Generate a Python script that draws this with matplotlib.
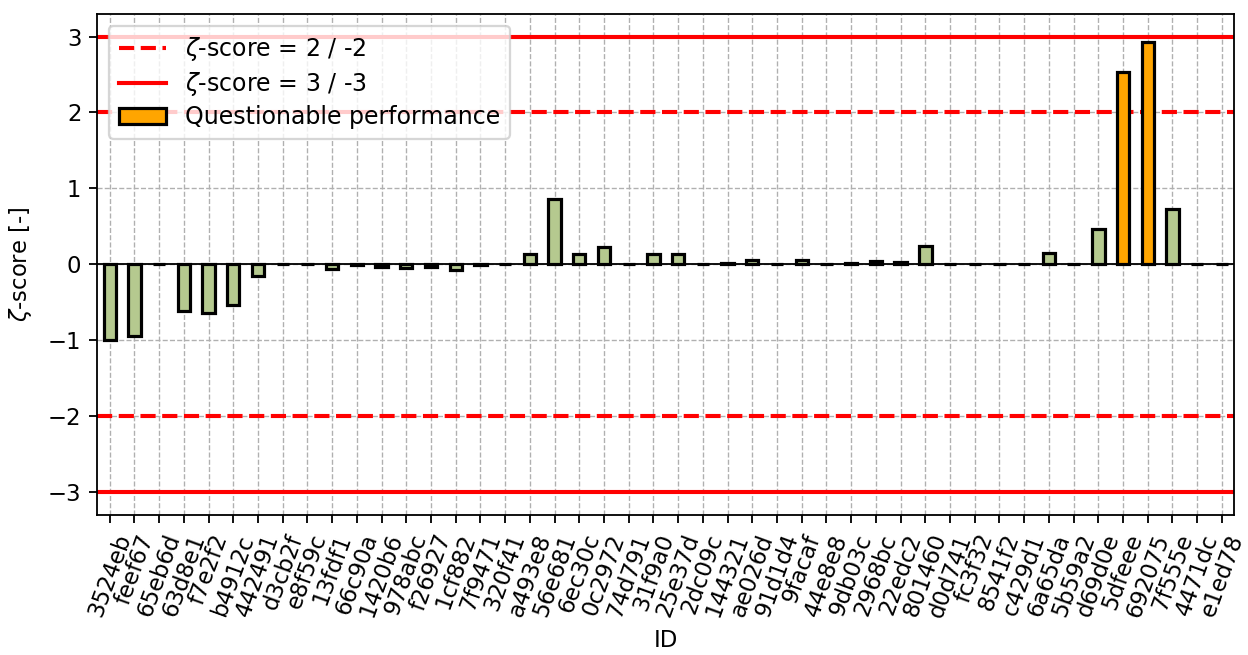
import matplotlib
matplotlib.use("Agg")
import matplotlib.pyplot as plt
from matplotlib.lines import Line2D
from matplotlib.patches import Patch

ids = ["3524eb", "feef67", "65eb6d", "63d8e1", "f7e2f2", "b4912c", "442491",
       "d3cb2f", "e8f59c", "13fdf1", "66c90a", "1420b6", "978abc", "f26927",
       "1cf882", "7f9471", "320f41", "a493e8", "56e681", "6ec30c", "0c2972",
       "74d791", "31f9a0", "25e37d", "2dc09c", "144321", "ae026d", "91d1d4",
       "9facaf", "44e8e8", "9db03c", "2968bc", "22edc2", "801460", "d0d741",
       "fc3f32", "8541f2", "c429d1", "6a65da", "5b59a2", "d69d0e", "5dfeee",
       "692075", "7f555e", "4471dc", "e1ed78"]

zeta = [-1.00, -0.95, 0.00, -0.62, -0.64, -0.53, -0.16,
        0.00, 0.00, -0.06, -0.01, -0.03, -0.05, -0.03,
        -0.08, -0.01, 0.00, 0.13, 0.86, 0.13, 0.23,
        0.00, 0.13, 0.13, 0.00, 0.02, 0.06, 0.00,
        0.05, 0.00, 0.02, 0.04, 0.03, 0.24, 0.01,
        0.00, 0.01, 0.01, 0.15, 0.00, 0.47, 2.53,
        2.93, 0.73, 0.00, 0.00]

warn_limit = 2
action_limit = 3

ok_color = "#b5c98f"
warn_color = "orange"

DPI = 164
fig, ax = plt.subplots(figsize=(1248 / DPI, 655 / DPI), dpi=DPI)

x = list(range(len(ids)))
colors = [warn_color if abs(v) >= warn_limit else ok_color for v in zeta]
ax.bar(x, zeta, width=0.5, color=colors, edgecolor="black", linewidth=1.4, zorder=3)

ax.axhline(0, color="black", linewidth=0.8, zorder=2)
for s in (1, -1):
    ax.axhline(s * warn_limit, color="red", linestyle="--", linewidth=1.8, zorder=2)
    ax.axhline(s * action_limit, color="red", linestyle="-", linewidth=1.8, zorder=2)

ax.set_xticks(x)
ax.set_xticklabels(ids, rotation=70)
ax.set_xlim(-0.5, len(ids) - 0.5)
ax.set_ylim(-3.3, 3.3)
ax.set_yticks([-3, -2, -1, 0, 1, 2, 3])
ax.set_yticklabels(["\u22123", "\u22122", "\u22121", "0", "1", "2", "3"])
ax.grid(True, linestyle="--", color="#b0b0b0", linewidth=0.6, zorder=0)
ax.set_axisbelow(True)

ax.set_xlabel("ID")
ax.set_ylabel(r"$\zeta$-score [-]", labelpad=6)

handles = [
    Line2D([], [], color="red", linestyle="--", linewidth=1.8),
    Line2D([], [], color="red", linestyle="-", linewidth=1.8),
    Patch(facecolor=warn_color, edgecolor="black", linewidth=1.4),
]
labels = [r"$\zeta$-score = 2 / -2", r"$\zeta$-score = 3 / -3",
          "Questionable performance"]
ax.legend(handles, labels, loc="upper left", fontsize=10.4, labelspacing=0.3)

fig.subplots_adjust(left=0.078, right=0.989, top=0.979, bottom=0.214)
fig.savefig("out.png", dpi=DPI)
